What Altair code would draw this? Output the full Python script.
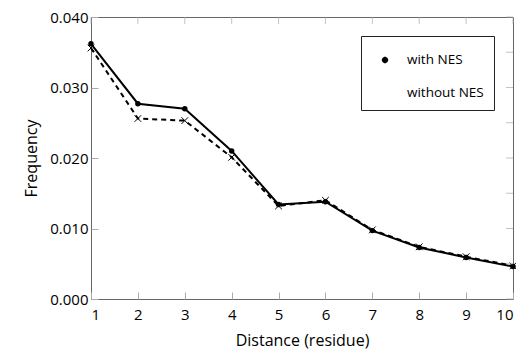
import altair as alt
import pandas as pd

distance = [1, 2, 3, 4, 5, 6, 7, 8, 9, 10]
with_nes = [0.0362, 0.0277, 0.0270, 0.0210, 0.0134, 0.0138, 0.0097, 0.0073, 0.0059, 0.0046]
without_nes = [0.0356, 0.0256, 0.0253, 0.0201, 0.0132, 0.0140, 0.0098, 0.0074, 0.0060, 0.0047]
series_names = ["with NES", "without NES"]
y_ticks = [0.0, 0.005, 0.01, 0.015, 0.02, 0.025, 0.03, 0.035, 0.04]

rows = []
for d, a, b in zip(distance, with_nes, without_nes):
    rows.append({"Distance": d, "Frequency": a, "series": series_names[0]})
    rows.append({"Distance": d, "Frequency": b, "series": series_names[1]})
df = pd.DataFrame(rows)
xt = pd.DataFrame({"Distance": distance})
yt = pd.DataFrame({"Frequency": y_ticks})

FONT = "Open Sans"
W, H = 422, 282
xs = alt.Scale(domain=[1, 10], nice=False, zero=False)
ys = alt.Scale(domain=[0, 0.04], nice=False)

X_PATH = "M-1,-1L1,1M-1,1L1,-1"
LEG_WITH = "M-1,0L-0.26,0L-0.18,-0.18L0,-0.26L0.18,-0.18L0.26,0L0.18,0.18L0,0.26L-0.18,0.18L-0.26,0L-0.18,-0.18L0,-0.26L0.18,-0.18L0.26,0L1,0"
LEG_WITHOUT = "M-1,0L-0.5,0M0.5,0L1,0M-0.28,-0.28L0.28,0.28M-0.28,0.28L0.28,-0.28"

AX = dict(labelFont=FONT, labelFontSize=15, labelColor="black",
          titleFont=FONT, titleFontSize=16, titleColor="black", titleFontWeight="normal",
          domain=False, tickSize=7, tickColor="#aaaaaa", grid=False, offset=-7)

base = alt.Chart(df)
xn = alt.X("Distance:Q", scale=xs)
yn = alt.Y("Frequency:Q", scale=ys)

line_with = base.transform_filter(alt.datum.series == series_names[0]).mark_line(
    strokeWidth=2, color="black"
).encode(
    x=alt.X("Distance:Q", scale=xs,
            axis=alt.Axis(values=distance, title="Distance (residue)",
                          labelPadding=8, titlePadding=10, **AX)),
    y=alt.Y("Frequency:Q", scale=ys,
            axis=alt.Axis(values=y_ticks, format=".3f", title="Frequency",
                          labelPadding=3, titlePadding=10, **AX)),
)

line_without = base.transform_filter(alt.datum.series == series_names[1]).mark_line(
    strokeWidth=2, color="black", strokeDash=[5, 4]
).encode(x=xn, y=yn)

pts_with = base.transform_filter(alt.datum.series == series_names[0]).mark_point(
    shape="circle", filled=True, size=30, color="black", opacity=1
).encode(x=xn, y=yn)

pts_without = base.transform_filter(alt.datum.series == series_names[1]).mark_point(
    shape=X_PATH, filled=False, size=45, color="black", strokeWidth=1, opacity=1
).encode(x=xn, y=yn)

legend_layer = base.mark_point(opacity=0, size=676, filled=True, color="black").encode(
    x=xn, y=yn,
    shape=alt.Shape("series:N", scale=alt.Scale(domain=series_names, range=[LEG_WITH, LEG_WITHOUT]),
                    legend=alt.Legend(
                        title=None, orient="none", legendX=270, legendY=19,
                        strokeColor="#222222", fillColor="white", padding=10,
                        labelFont=FONT, labelFontSize=13.5, labelColor="black",
                        symbolSize=676, symbolStrokeWidth=1.6, symbolOpacity=1,
                        symbolFillColor="black", symbolStrokeColor="black",
                        rowPadding=12, labelOffset=8)),
)

top_ticks = alt.Chart(xt).mark_tick(orient="vertical", size=7, thickness=1, color="#aaaaaa").encode(
    x=xn, y=alt.value(3.5))
right_ticks = alt.Chart(yt).mark_tick(orient="horizontal", size=7, thickness=1, color="#aaaaaa").encode(
    y=yn, x=alt.value(W - 3.5))

chart = alt.layer(line_with, line_without, pts_with, pts_without, legend_layer,
                  top_ticks, right_ticks).properties(
    width=W, height=H,
    autosize=alt.AutoSizeParams(type="none"),
    padding={"left": 83, "top": 9, "right": 3, "bottom": 56},
).configure_view(
    stroke="#666666", strokeWidth=1
)

chart.save("out.html", embed_options={"renderer": "svg", "actions": False})
